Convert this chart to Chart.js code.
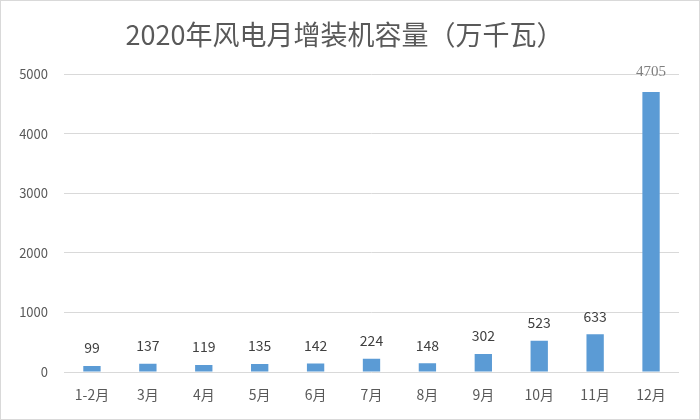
<!DOCTYPE html>
<html><head><meta charset="utf-8">
<script src="https://cdn.jsdelivr.net/npm/chart.js@4/dist/chart.umd.min.js"></script>
<style>html,body{margin:0;padding:0;background:#fff;}#wrap{width:700px;height:420px;}</style>
</head><body><div id="wrap"><canvas id="c" width="700" height="420"></canvas></div>
<script>
const categories = ['1-2月','3月','4月','5月','6月','7月','8月','9月','10月','11月','12月'];
const values = [99, 137, 119, 135, 142, 224, 148, 302, 523, 633, 4705];
const yTicks = [0, 1000, 2000, 3000, 4000, 5000];
const titleText = '2020年风电月增装机容量（万千瓦）';

const frame = {
  id: 'frame',
  beforeDraw(chart) {
    const ctx = chart.ctx;
    ctx.save();
    ctx.fillStyle = '#fff';
    ctx.fillRect(0, 0, chart.width, chart.height);
    ctx.strokeStyle = '#d9d9d9';
    ctx.lineWidth = 1;
    ctx.strokeRect(0.5, 0.5, chart.width - 1, chart.height - 1);
    ctx.restore();
  }
};
const valueLabels = {
  id: 'valueLabels',
  afterDatasetsDraw(chart) {
    const ctx = chart.ctx;
    const meta = chart.getDatasetMeta(0);
    ctx.save();
    ctx.textAlign = 'center';
    ctx.textBaseline = 'middle';
    meta.data.forEach((bar, i) => {
      const last = i === values.length - 1;
      ctx.font = last ? '15px "Liberation Serif"' : '14px "Noto Sans CJK SC"';
      ctx.fillStyle = last ? '#7f7f7f' : '#404040';
      ctx.fillText(String(values[i]), bar.x, bar.y - (last ? 20 : 18));
    });
    ctx.restore();
  }
};

new Chart(document.getElementById('c'), {
  type: 'bar',
  data: {
    labels: categories,
    datasets: [{
      data: values,
      backgroundColor: '#5b9bd5',
      categoryPercentage: 1,
      barPercentage: 0.31
    }]
  },
  options: {
    responsive: false,
    animation: false,
    devicePixelRatio: 1,
    layout: { padding: { left: 10, right: 21, top: 0, bottom: 0 } },
    plugins: {
      legend: { display: false },
      tooltip: { enabled: false },
      title: {
        display: true,
        text: titleText,
        color: '#595959',
        font: { family: '"Noto Sans CJK SC"', size: 27, weight: 'normal', lineHeight: 1.2 },
        padding: { top: 19, bottom: 23 }
      }
    },
    scales: {
      x: {
        grid: { display: false, drawTicks: false },
        border: { display: false },
        ticks: { color: '#595959', font: { family: '"Noto Sans CJK SC"', size: 14 }, padding: 14, maxRotation: 0 },
        afterFit(s) { s.height = 48; }
      },
      y: {
        min: 0, max: 5000,
        afterBuildTicks(s) { s.ticks = yTicks.map(v => ({ value: v })); },
        grid: { color: '#d9d9d9', drawTicks: false, lineWidth: 1 },
        border: { display: false },
        ticks: { color: '#595959', font: { family: '"Noto Sans CJK SC"', size: 13 }, padding: 16,
                 callback: (v) => String(v) },
        afterFit(s) { s.width = 54; }
      }
    }
  },
  plugins: [frame, valueLabels]
});
</script></body></html>
